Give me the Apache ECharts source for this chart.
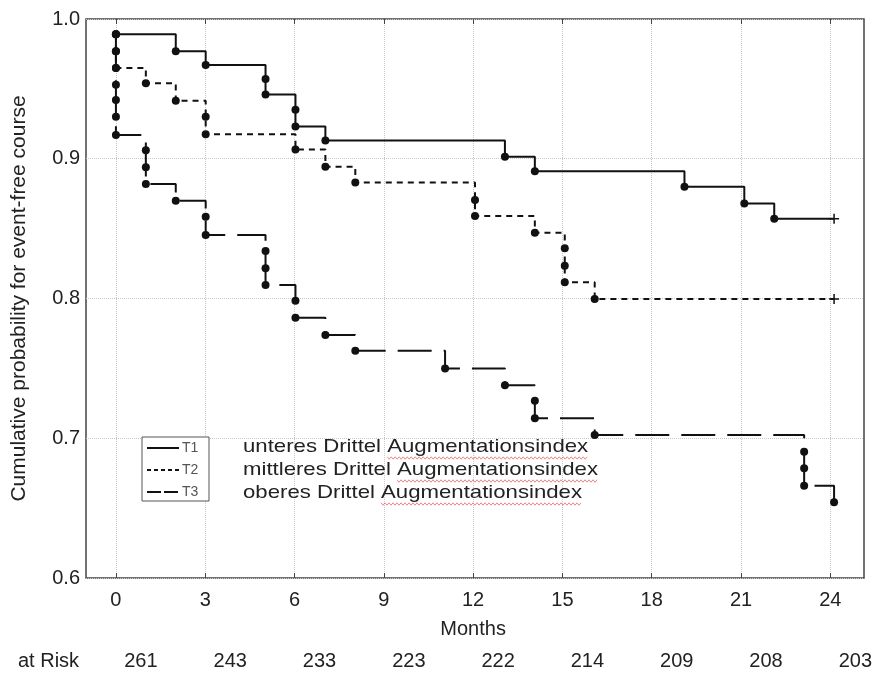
<!DOCTYPE html>
<html><head><meta charset="utf-8">
<script src="https://cdn.jsdelivr.net/npm/echarts@6/dist/echarts.min.js"></script>
<style>html,body{margin:0;padding:0;background:#fff}#c{width:875px;height:673px}</style>
</head><body><div id="c"></div>
<script>
// ---- data ----
const monthTicks = [0,3,6,9,12,15,18,21,24];
const atRisk = [261,243,233,223,222,214,209,208,203];
const yTicks = [0.6,0.7,0.8,0.9,1.0];
const t1Times = [0,2,3,5,5,6,6,7,13,14,19,21,22];
const t1Surv  = [0.989,0.977,0.967,0.957,0.946,0.935,0.923,0.913,0.9015,0.891,0.880,0.868,0.857];
const t2Times = [0,0,0,1,2,3,3,6,7,8,12,12,14,15,15,15,16];
const t2Surv  = [0.989,0.977,0.965,0.954,0.9415,0.930,0.9175,0.9067,0.8943,0.883,0.8705,0.859,0.847,0.836,0.8235,0.8116,0.7997];
const t3Times = [0,0,0,0,0,0,0,1,1,1,2,3,3,5,5,5,6,6,7,8,11,13,14,14,16,23,23,23,24];
const t3Surv  = [0.989,0.977,0.965,0.953,0.942,0.930,0.917,0.906,0.894,0.882,0.870,0.8585,0.8454,0.834,0.8216,0.8097,0.7984,0.7863,0.7739,0.7627,0.750,0.738,0.7269,0.7143,0.7023,0.6904,0.6785,0.666,0.6542];
const endMonth = 24;
const censored = [true, true, false];
const seriesNames = ['T1','T2','T3'];
const groupTexts = ['unteres Drittel Augmentationsindex','mittleres Drittel Augmentationsindex','oberes Drittel Augmentationsindex'];
const xTitle = 'Months';
const yTitle = 'Cumulative probability for event-free course';
const riskTitle = 'at Risk';

// ---- layout ----
const W = 875, H = 673;
const G = {left:86, top:19, right:11, bottom:95};
const xMin = -1, xMax = 25;
const plotW = W - G.left - G.right;
const px = m => G.left + (m - xMin) / (xMax - xMin) * plotW;
const G1 = {left: px(monthTicks[0]), right: W - px(monthTicks[monthTicks.length-1]), top: G.top, bottom: G.bottom};
const FONT = '"Liberation Sans", Arial, sans-serif';
const INK = '#111';
const TXT = '#222';
const dashes = ['solid', [6,5], [34,12]];

function steps(times, surv, end){
  const pts = [[times[0], surv[0]]];
  for (let i = 1; i < times.length; i++){
    pts.push([times[i], surv[i-1]]);
    pts.push([times[i], surv[i]]);
  }
  if (times[times.length-1] < end) pts.push([end, surv[surv.length-1]]);
  return pts;
}
const groups = [[t1Times,t1Surv],[t2Times,t2Surv],[t3Times,t3Surv]];

const series = [];
groups.forEach(([t,s],i) => {
  series.push({type:'line', name:seriesNames[i], xAxisIndex:0, yAxisIndex:0, data:steps(t,s,endMonth),
    showSymbol:false, symbol:'none', lineStyle:{color:INK, width:2, type:dashes[i], opacity:1}, z:3, silent:true});
  series.push({type:'scatter', xAxisIndex:0, yAxisIndex:0, data:t.map((v,k)=>[v,s[k]]),
    symbol:'circle', symbolSize:8, itemStyle:{color:INK, opacity:1}, z:4, silent:true});
  if (censored[i]) series.push({type:'scatter', xAxisIndex:0, yAxisIndex:0, data:[[endMonth, s[s.length-1]]],
    symbol:'path://M3.4,0H4.6V3.4H8V4.6H4.6V8H3.4V4.6H0V3.4H3.4Z', symbolSize:10, itemStyle:{color:INK, opacity:1}, z:4, silent:true});
});

// text measurement for annotation width / squiggles
const mctx = document.createElement('canvas').getContext('2d');
const annFont = 19;
mctx.font = annFont + 'px ' + FONT;
const annScale = 355 / mctx.measureText(groupTexts[1]).width;
const annX = 243, annY = [447, 470, 493];

const graphics = [];
graphics.push({type:'rect', shape:{x:142, y:437, width:67, height:64}, style:{fill:'#fff', stroke:'#555', lineWidth:1}, z:10});
const legY = [448, 470, 492];
seriesNames.forEach((n,i) => {
  graphics.push({type:'line', shape:{x1:147, y1:legY[i], x2:179, y2:legY[i]},
    style:{stroke:INK, lineWidth:2, lineDash: i===0 ? null : (i===1 ? [4,3] : [14,3])}, z:11});
  graphics.push({type:'text', x:182, y:legY[i], style:{text:n, font:'14px '+FONT, fill:'#555', textVerticalAlign:'middle'}, z:11});
});
groupTexts.forEach((t,i) => {
  graphics.push({type:'text', x:annX, y:annY[i], scaleX:annScale,
    style:{text:t, font:annFont+'px '+FONT, fill:TXT, textVerticalAlign:'middle', textAlign:'left'}, z:11});
  const word = t.split(' ').pop();
  const x0 = annX + mctx.measureText(t.slice(0, t.length - word.length)).width * annScale;
  const x1 = annX + mctx.measureText(t).width * annScale;
  const pts = [];
  const yb = annY[i] + 11;
  for (let x = x0, k = 0; x <= x1; x += 2, k++) pts.push([x, yb + (k%2 ? 1.2 : -1.2)]);
  graphics.push({type:'polyline', shape:{points:pts}, style:{stroke:'#e06a6a', lineWidth:0.8, fill:null}, z:11});
});
graphics.push({type:'text', x:18, y:661, style:{text:riskTitle, font:'20px '+FONT, fill:TXT, textVerticalAlign:'middle'}});

const option = {
  backgroundColor:'#fff',
  animation:false,
  grid:[
    {left:G.left, top:G.top, right:G.right, bottom:G.bottom, show:true, borderColor:'#444', borderWidth:1.5, backgroundColor:'transparent'},
    {left:G1.left, top:G1.top, right:G1.right, bottom:G1.bottom, show:false}
  ],
  xAxis:[
    {type:'value', gridIndex:0, min:xMin, max:xMax, show:false},
    {type:'value', gridIndex:1, min:0, max:24, interval:3, position:'bottom',
      axisLine:{show:false}, axisTick:{show:true, inside:true, length:5, lineStyle:{color:'#444'}},
      splitLine:{show:true, lineStyle:{color:'#c8c8c8', type:'dotted', width:1}},
      axisLabel:{fontFamily:FONT, fontSize:20, color:TXT, margin:12},
      name:xTitle, nameLocation:'middle', nameGap:41, nameTextStyle:{fontFamily:FONT, fontSize:20, color:TXT}},
    {type:'value', gridIndex:1, min:0, max:24, interval:3, position:'top',
      axisLine:{show:false}, axisTick:{show:true, inside:true, length:5, lineStyle:{color:'#444'}},
      splitLine:{show:false}, axisLabel:{show:false}},
    {type:'value', gridIndex:1, min:0, max:24, interval:3, position:'bottom', offset:70,
      axisLine:{show:false}, axisTick:{show:false}, splitLine:{show:false},
      axisLabel:{fontFamily:FONT, fontSize:20, color:TXT, margin:3, padding:[0,0,0,50],
        formatter: v => { const k = monthTicks.indexOf(v); return k >= 0 ? String(atRisk[k]) : ''; }}}
  ],
  yAxis:[
    {type:'value', gridIndex:0, min:yTicks[0], max:yTicks[yTicks.length-1], interval:0.1,
      axisLine:{show:false}, axisTick:{show:false},
      splitLine:{show:true, lineStyle:{color:'#c8c8c8', type:'dotted', width:1}},
      axisLabel:{fontFamily:FONT, fontSize:20, color:TXT, margin:6, formatter: v => v.toFixed(1)},
      name:yTitle, nameLocation:'middle', nameGap:56, nameRotate:90, nameTextStyle:{fontFamily:FONT, fontSize:21, color:TXT}},
    {type:'value', gridIndex:1, min:0, max:1, show:false}
  ],
  series: series,
  graphic: graphics
};
const chart = echarts.init(document.getElementById('c'));
chart.setOption(option);
</script>
</body></html>
